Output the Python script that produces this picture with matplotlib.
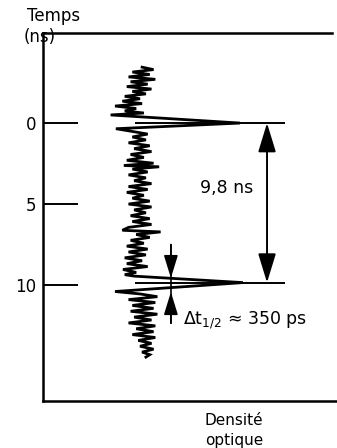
import matplotlib
matplotlib.use("Agg")
import matplotlib.pyplot as plt

plt.rcParams['font.family'] = ['DejaVu Sans']
plt.rcParams['mathtext.fontset'] = 'dejavusans'

# trace : temps (ns) / densite optique (unites arbitraires)
temps = [-3.45, -3.30, -3.15, -3.00, -2.85, -2.70, -2.55, -2.40, -2.25, -2.10,
         -1.95, -1.80, -1.65, -1.50, -1.35, -1.20, -1.05, -0.90, -0.75, -0.62,
         -0.50, 0.00, 0.35,
         0.50, 0.68, 0.86, 1.04, 1.22, 1.40, 1.58, 1.76, 1.94, 2.12,
         2.30, 2.48, 2.62, 2.70, 2.84, 3.02, 3.20, 3.38, 3.56, 3.74,
         3.92, 4.10, 4.28, 4.46, 4.64, 4.82, 5.00, 5.18, 5.36, 5.54,
         5.72, 5.90, 6.08, 6.26, 6.44, 6.62, 6.72, 6.88, 7.06, 7.24,
         7.42, 7.60, 7.78, 7.96, 8.14, 8.32, 8.50, 8.68, 8.86, 9.04,
         9.22, 9.36, 9.45, 9.85, 10.40,
         10.55, 10.72, 10.90, 11.08, 11.26, 11.44, 11.62, 11.80, 11.98, 12.16,
         12.34, 12.52, 12.70, 12.88, 13.06, 13.24, 13.42, 13.60, 13.78, 13.96,
         14.14, 14.30, 14.45]
densite = [33.7, 37.6, 30.4, 36.3, 29.1, 38.2, 29.8, 35.6, 28.5, 36.9,
           30.4, 35.0, 27.8, 33.0, 27.0, 33.7, 24.5, 31.7, 27.8, 34.3,
           23.0, 67.0, 24.8,
           29.8, 35.6, 30.4, 35.0, 29.1, 36.3, 31.0, 36.9, 29.8, 34.3,
           28.5, 37.6, 27.5, 39.5, 30.4, 35.6, 29.1, 35.0, 31.0, 36.9,
           29.1, 35.6, 28.5, 34.3, 30.4, 36.3, 29.1, 36.9, 31.0, 35.0,
           29.8, 36.3, 30.4, 36.9, 29.1, 27.0, 40.0, 31.7, 36.3, 29.8,
           34.3, 28.5, 35.6, 29.1, 35.0, 27.8, 33.7, 28.5, 35.6, 27.2,
           31.7, 27.8, 31.0, 68.0, 24.5,
           33.0, 38.9, 29.1, 38.2, 30.4, 37.6, 29.8, 38.9, 31.0, 36.9,
           29.1, 38.2, 31.7, 37.6, 30.4, 38.2, 32.4, 36.9, 33.0, 37.6,
           33.7, 36.3, 35.0]

pics = [0.0, 9.85]
ecart = 9.8
yticks = [0, 5, 10]

fig = plt.figure(figsize=(3.37, 4.48), dpi=100)
ax = fig.add_axes([43/337, 1 - 401/448, 294/337, 368/448])
ax.set_xlim(0, 100)
ax.set_ylim(17.16, -5.56)

ax.plot(densite, temps, color='black', lw=2.0, solid_joinstyle='miter')
ax.hlines(pics, 31.3, 82.3, color='black', lw=1.4)

# fleche 9,8 ns
ax.annotate('', xy=(76.2, pics[0]), xytext=(76.2, pics[1]),
            arrowprops=dict(arrowstyle='<|-|>,head_length=1.8,head_width=0.55',
                            mutation_scale=10, lw=1.4, color='black',
                            shrinkA=0, shrinkB=0))
ax.text(62.6, 4.0, f'{ecart:.1f} ns'.replace('.', ','), ha='center', va='center', fontsize=12.5)

# largeur a mi-hauteur
ax.plot([43.5, 43.5], [7.5, 12.35], color='black', lw=1.2)
ax.annotate('', xy=(43.5, 9.57), xytext=(43.5, 7.5),
            arrowprops=dict(arrowstyle='-|>,head_length=1.4,head_width=0.43',
                            mutation_scale=10, lw=1.2, color='black',
                            shrinkA=0, shrinkB=0))
ax.annotate('', xy=(43.5, 10.43), xytext=(43.5, 12.35),
            arrowprops=dict(arrowstyle='-|>,head_length=1.4,head_width=0.43',
                            mutation_scale=10, lw=1.2, color='black',
                            shrinkA=0, shrinkB=0))
ax.text(47.6, 12.2, r'$\Delta\mathrm{t}_{1/2}$ ≈ 350 ps', ha='left', va='center', fontsize=12.5)

ax.spines['right'].set_visible(False)
for s in ['left', 'top', 'bottom']:
    ax.spines[s].set_linewidth(1.8)
ax.spines['top'].set_bounds(0, 98.3)

ax.set_xticks([])
ax.set_yticks(yticks)
ax.set_yticklabels([str(v) for v in yticks], fontsize=12)
ax.tick_params(axis='y', direction='in', length=25, width=1.4, pad=5)

fig.text(27/337, 1 - 16/448, 'Temps', ha='left', va='center', fontsize=12)
fig.text(24/337, 1 - 37/448, '(ns)', ha='left', va='center', fontsize=12)
fig.text(234/337, 1 - 420/448, 'Densité', ha='center', va='center', fontsize=11)
fig.text(234/337, 1 - 440/448, 'optique', ha='center', va='center', fontsize=11)

fig.savefig('out.png', dpi=100)
